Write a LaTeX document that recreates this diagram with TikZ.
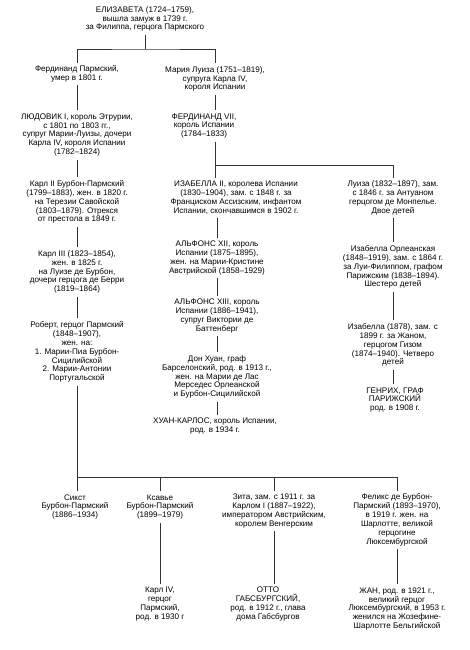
\documentclass[tikz,border=0pt]{standalone}
\usepackage{fontspec}
\setmainfont{Liberation Sans}
\begin{document}
\begin{tikzpicture}[x=1pt,y=-1pt,
  every node/.style={font=\fontsize{8.1}{8.9}\selectfont, align=center, inner xsep=0pt, inner ysep=3pt, text=black},
  link/.style={draw=black!80, line width=0.6pt}]
\useasboundingbox[fill=white] (0,0) rectangle (470,650);
% top
\node (eliz) at (145,19) {ЕЛИЗАВЕТА (1724–1759),\\ вышла замуж в 1739 г.\\ за Филиппа, герцога Пармского};
\node (ferd) at (77,74) {Фердинанд Пармский,\\ умер в 1801 г.};
\node (marl) at (215,79) {Мария Луиза (1751–1819),\\ супруга Карла IV,\\ короля Испании};
% left column
\node (lud) at (77,135) {ЛЮДОВИК I, король Этрурии,\\ с 1801 по 1803 гг.,\\ супруг Марии-Луизы, дочери\\ Карла IV, короля Испании\\ (1782–1824)};
\node (karl2) at (77,202) {Карл II Бурбон-Пармский\\ (1799–1883), жен. в 1820 г.\\ на Терезии Савойской\\ (1803–1879). Отрекся\\ от престола в 1849 г.};
\node (karl3) at (77,272) {Карл III (1823–1854),\\ жен. в 1825 г.\\ на Луизе де Бурбон,\\ дочери герцога де Берри\\ (1819–1864)};
\node (robert) at (77,352) {Роберт, герцог Пармский\\ (1848–1907),\\ жен. на:\\ 1. Марии-Пиа Бурбон-\\ Сицилийской\\ 2. Марии-Антонии\\ Португальской};
% middle column
\node (f7) at (204,126) {ФЕРДИНАНД VII,\\ король Испании\\ (1784–1833)};
\node (izab) at (236,198) {ИЗАБЕЛЛА II, королева Испании\\ (1830–1904), зам. с 1848 г. за\\ Франциском Ассизским, инфантом\\ Испании, скончавшимся в 1902 г.};
\node (alf12) at (217,258) {АЛЬФОНС XII, король\\ Испании (1875–1895),\\ жен. на Марии-Кристине\\ Австрийской (1858–1929)};
\node (alf13) at (217,316) {АЛЬФОНС XIII, король\\ Испании (1886–1941),\\ супруг Виктории де\\ Баттенберг};
\node (donhuan) at (217,377) {Дон Хуан, граф\\ Барселонский, род. в 1913 г.,\\ жен. на Марии де Лас\\ Мерседес Орлеанской\\ и Бурбон-Сицилийской};
\node (hk) at (215,426) {ХУАН-КАРЛОС, король Испании,\\ род. в 1934 г.};
% right column
\node (luiza) at (393,198) {Луиза (1832–1897), зам.\\ с 1846 г. за Антуаном\\ герцогом де Монпелье.\\ Двое детей};
\node (izorl) at (393,267) {Изабелла Орлеанская\\ (1848–1919), зам. с 1864 г.\\ за Луи-Филиппом, графом\\ Парижским (1838–1894).\\ Шестеро детей};
\node (izab78) at (393,345) {Изабелла (1878), зам. с\\ 1899 г. за Жаном,\\ герцогом Гизом\\ (1874–1940). Четверо\\ детей};
\node (genrih) at (395,400) {ГЕНРИХ, ГРАФ\\ ПАРИЖСКИЙ\\ род. в 1908 г.};
% bottom row
\node (sikst) at (75,507) {Сикст\\ Бурбон-Пармский\\ (1886–1934)};
\node (xav) at (160,507) {Ксавье\\ Бурбон-Пармский\\ (1899–1979)};
\node (zita) at (274,511) {Зита, зам. с 1911 г. за\\ Карлом I (1887–1922),\\ императором Австрийским,\\ королем Венгерским};
\node (felix) at (397,520) {Феликс де Бурбон-\\ Пармский (1893–1970),\\ в 1919 г. жен. на\\ Шарлотте, великой\\ герцогине\\ Люксембургской};
\node (karl4) at (160,604) {Карл IV,\\ герцог\\ Пармский,\\ род. в 1930 г};
\node (otto) at (268,604) {ОТТО\\ ГАБСБУРГСКИЙ,\\ род. в 1912 г., глава\\ дома Габсбургов};
\node (jean) at (397,609) {ЖАН, род. в 1921 г.,\\ великий герцог\\ Люксембургский, в 1953 г.\\ женился на Жозефине-\\ Шарлотте Бельгийской};
% junctions
\coordinate (bar1) at (145,49);
\coordinate (bar2) at (215,165);
\coordinate (bar3) at (77,477);
% connectors
\draw[link] (eliz.south -| bar1) -- (bar1);
\draw[link] (ferd.north) |- (bar1) -| (marl.north);
\draw[link] (ferd.south) -- (lud.north);
\draw[link] (marl.south) -- (marl.south |- f7.north);
\draw[link] (lud.south) -- (karl2.north);
\draw[link] (karl2.south) -- (karl3.north);
\draw[link] (karl3.south) -- (robert.north);
\draw[link] (f7.south -| bar2) -- (izab.north -| bar2);
\draw[link] (bar2) -| (luiza.north);
\draw[link] (izab.south -| alf12.north) -- (alf12.north);
\draw[link] (alf12.south) -- (alf13.north);
\draw[link] (alf13.south) -- (donhuan.north);
\draw[link] (donhuan.south) -- (donhuan.south |- hk.north);
\draw[link] (luiza.south) -- (izorl.north);
\draw[link] (izorl.south) -- (izorl.south |- izab78.north);
\draw[link] (izab78.south) -- (izab78.south |- genrih.north);
\draw[link] (robert.south) -- (robert.south |- sikst.north);
\draw[link] (bar3) -| (felix.north);
\draw[link] (xav.north |- bar3) -- (xav.north);
\draw[link] (zita.north |- bar3) -- (zita.north);
\draw[link] (xav.south) -- (karl4.north);
\draw[link] (zita.south) -- (zita.south |- otto.north);
\draw[link] (felix.south) -- (jean.north);
\end{tikzpicture}
\end{document}
